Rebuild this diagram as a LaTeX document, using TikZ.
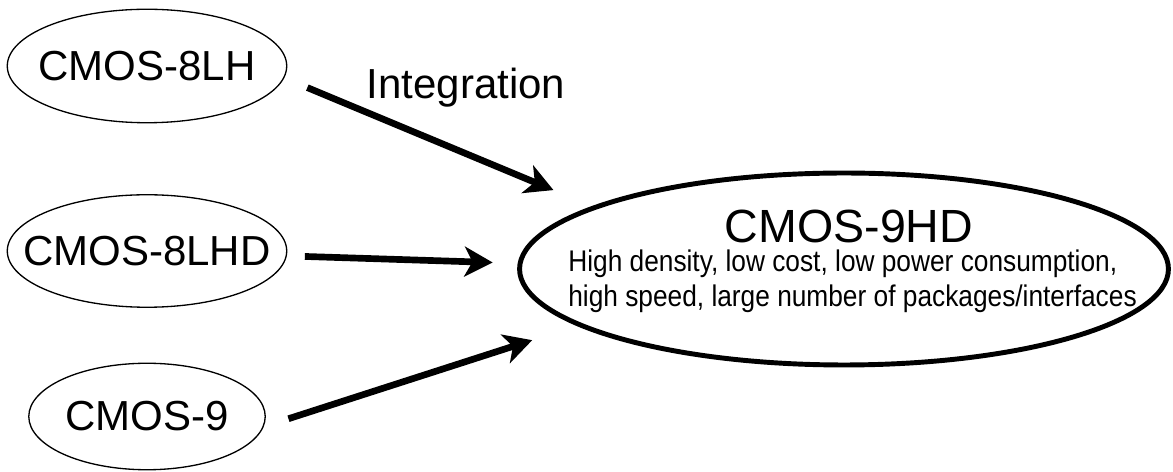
\documentclass[tikz,border=0pt]{standalone}
\usepackage{fontspec}
\usepackage{graphicx}
\setmainfont{Liberation Sans}
\usetikzlibrary{arrows.meta, shapes.geometric}

\begin{document}
\begin{tikzpicture}[
    x=0.02cm, y=-0.02cm,
    oval/.style={draw, ellipse, line width=0.75pt, inner sep=0pt},
    chip/.style={font=\fontsize{23.9pt}{28pt}\selectfont, inner sep=0pt},
    spec/.style={font=\fontsize{17pt}{20pt}\selectfont, inner sep=0pt, anchor=base west},
    flow/.style={-{Stealth[length=16pt, width=17pt, inset=4.5pt]}, line width=3.8pt},
]
\useasboundingbox (0,0) rectangle (1173,472);

% Source processes
\node[oval, minimum width=5.59cm, minimum height=2.27cm] (e1) at (147,66) {};
\node[chip] (t1) at (e1) {CMOS-8LH};
\node[oval, minimum width=5.59cm, minimum height=2.25cm] (e2) at (147,251) {};
\node[chip] (t2) at (e2) {CMOS-8LHD};
\node[oval, minimum width=4.73cm, minimum height=2.13cm] (e3) at (147,416.5) {};
\node[chip] (t3) at (e3) {CMOS-9};

% Target process
\node[draw, ellipse, line width=2.8pt, inner sep=0pt, minimum width=12.98cm, minimum height=3.84cm] (hd) at (844,269) {};
\node[font=\fontsize{26.5pt}{30pt}\selectfont, inner sep=0pt, anchor=base] (hdname) at (849,243) {CMOS-9HD};
\node[spec] (spec1) at (568,272) {\scalebox{0.88}[1]{High density, low cost, low power consumption,}};
\node[spec] (spec2) at (568,307) {\scalebox{0.88}[1]{high speed, large number of packages/interfaces}};

% Arrows
\draw[flow, shorten <=0.5cm, shorten >=0.84cm] (e1.-5.5) -- (hd.166.5);
\draw[flow, shorten <=0.36cm, shorten >=0.5cm] (e2.-2.2) -- (hd.179.1);
\draw[flow, shorten <=0.52cm, shorten >=0.94cm] (e3.-5.7) -- (hd.192.2);

\node[chip, anchor=base] (integ) at (466,99) {Integration};

\end{tikzpicture}
\end{document}
